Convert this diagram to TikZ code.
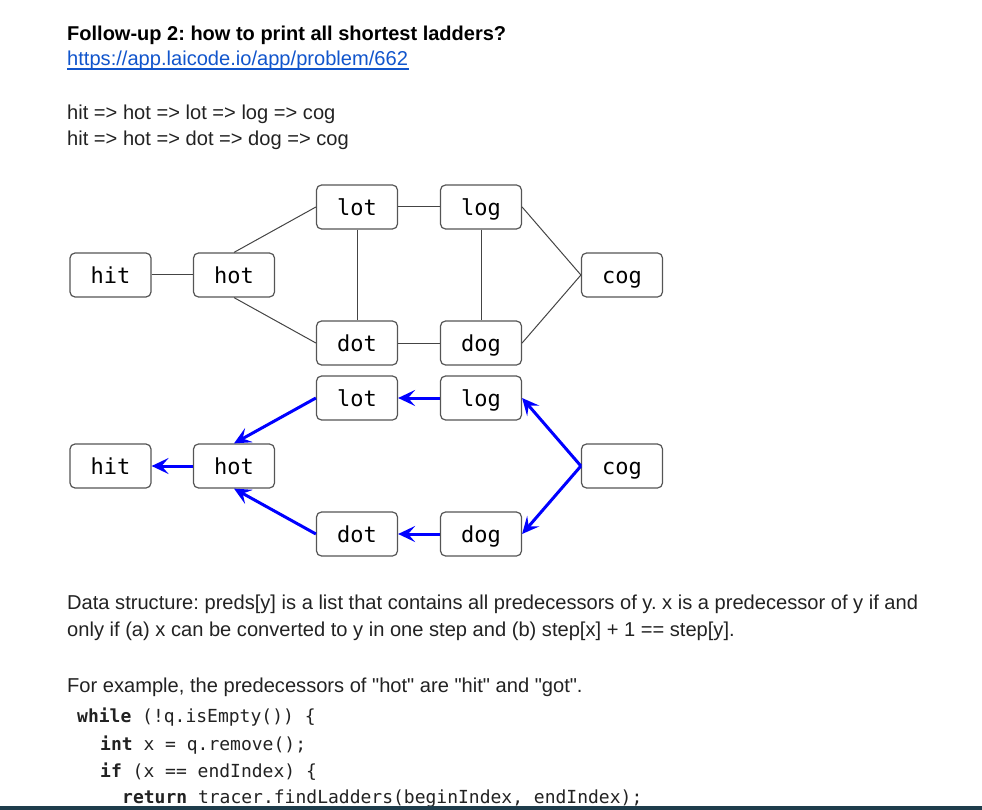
\documentclass[tikz,border=0pt]{standalone}
\usepackage{fontspec}
\setmainfont{Liberation Sans}
\setmonofont{DejaVu Sans Mono}
\usetikzlibrary{arrows.meta}
\definecolor{linkblue}{HTML}{1155CC}
\definecolor{edgegray}{HTML}{444444}
\definecolor{boxgray}{HTML}{555555}
\definecolor{textgray}{HTML}{222222}
\definecolor{barcol}{HTML}{1E3D4C}
\frenchspacing

\begin{document}
\begin{tikzpicture}[x=1pt,y=-1pt,
    word/.style={draw=boxgray, line width=1.2pt, rounded corners=5pt, minimum width=81pt, minimum height=44pt, inner sep=0pt, text height=22pt, text depth=5pt, font=\ttfamily\fontsize{22}{22}\selectfont},
    link/.style={draw=edgegray, line width=1pt},
    back/.style={draw=blue, line width=3pt, -{Stealth[length=17pt,width=16pt,inset=7pt]}},
    txt/.style={anchor=base west, inner sep=0pt, text=textgray, font=\fontsize{20.1}{24}\selectfont},
    code/.style={anchor=base west, inner sep=0pt, text=textgray, font=\ttfamily\fontsize{18}{20}\selectfont}]

    \useasboundingbox (0,0) rectangle (982,810);

    % heading and the two ladders
    \node[txt, text=black, font=\bfseries\fontsize{20}{24}\selectfont] (title) at (67,41) {Follow-up 2: how to print all shortest ladders?};
    \node[txt, text=linkblue] (url) at (67,66) {https://app.laicode.io/app/problem/662};
    \draw[linkblue, line width=1.2pt] (url.base west) ++(0,3) -- ++(342,0);
    \node[txt] (path1) at (67,120) {hit => hot => lot => log => cog};
    \node[txt] (path2) at (67,146) {hit => hot => dot => dog => cog};

    % word graph
    \node[word] (hit) at (110.5,275) {hit};
    \node[word] (hot) at (234,275) {hot};
    \node[word] (lot) at (357,207) {lot};
    \node[word] (log) at (481,207) {log};
    \node[word] (dot) at (357,343) {dot};
    \node[word] (dog) at (481,343) {dog};
    \node[word] (cog) at (622,275) {cog};

    \draw[link] (hit) -- (hot);
    \draw[link] (hot.north) -- (lot.west);
    \draw[link] (hot.south) -- (dot.west);
    \draw[link] (lot) -- (log);
    \draw[link] (dot) -- (dog);
    \draw[link] (lot) -- (dot);
    \draw[link] (log) -- (dog);
    \draw[link] (log.east) -- (cog.west);
    \draw[link] (dog.east) -- (cog.west);

    % predecessor graph
    \node[word] (hit2) at (110.5,466) {hit};
    \node[word] (hot2) at (234,466) {hot};
    \node[word] (lot2) at (357,398) {lot};
    \node[word] (log2) at (481,398) {log};
    \node[word] (dot2) at (357,534) {dot};
    \node[word] (dog2) at (481,534) {dog};
    \node[word] (cog2) at (622,466) {cog};

    \draw[back] (hot2) -- (hit2);
    \draw[back] (lot2.west) -- (hot2.north);
    \draw[back] (dot2.west) -- (hot2.south);
    \draw[back] (log2) -- (lot2);
    \draw[back] (dog2) -- (dot2);
    \draw[back] (cog2.west) -- (log2.east);
    \draw[back] (cog2.west) -- (dog2.east);

    % notes
    \node[txt] (note1) at (67,609) {Data structure: preds[y] is a list that contains all predecessors of y. x is a predecessor of y if and};
    \node[txt] (note2) at (67,636) {only if (a) x can be converted to y in one step and (b) step[x] + 1 == step[y].};
    \node[txt] (note3) at (67,692) {For example, the predecessors of \textquotedbl hot\textquotedbl{} are \textquotedbl hit\textquotedbl{} and \textquotedbl got\textquotedbl.};

    %% code
    \node[code] (line1) at (77,722) {\textbf{while} (!q.isEmpty()) \{};
    \node[code] (line2) at (100,750) {\textbf{int} x = q.remove();};
    \node[code] (line3) at (100,777) {\textbf{if} (x == endIndex) \{};
    \node[code] (line4) at (122,803) {\textbf{return} tracer.findLadders(beginIndex, endIndex);};

    \fill[barcol] (0,806) rectangle (982,810);
\end{tikzpicture}
\end{document}
